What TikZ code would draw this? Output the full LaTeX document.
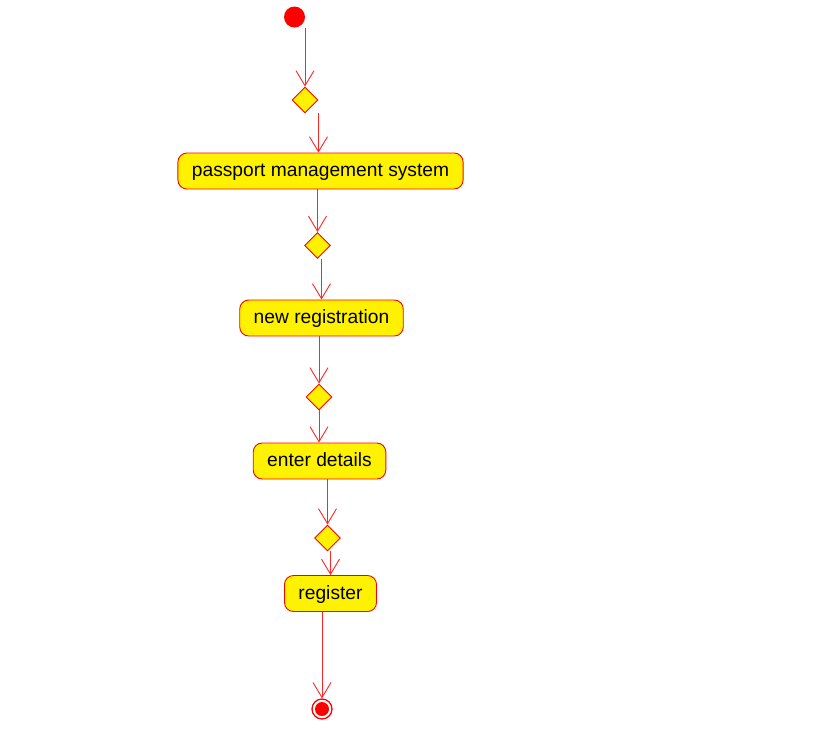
\documentclass[tikz,border=0pt]{standalone}
\usepackage{fontspec}
\setmainfont{Liberation Sans}
\usetikzlibrary{shapes.geometric}
\usetikzlibrary{arrows.meta}
\tikzset{
    activity diagram/.style={
            x=1pt,y=-1pt,
            font=\fontsize{19.2}{22}\selectfont,
            arrow/.style={-{Straight Barb[length=15pt,width=18pt]},red!85,line width=0.9pt},
            action/.style={draw=red,fill=yellow,rounded corners=9pt,minimum height=36pt,text height=14pt,text depth=3pt,inner xsep=14pt,inner ysep=0pt,line width=0.9pt},
            decision/.style={diamond,draw=red,fill=yellow,minimum size=26pt,inner sep=0pt,line width=0.9pt},
            initial/.style={circle,fill=red,minimum size=21pt,inner sep=0pt},
            final/.style={circle,draw=red,fill=white,line width=1.3pt,minimum size=20pt,inner sep=0pt,
                path picture={\fill[red] (path picture bounding box.center) circle (7pt);}}
        }
    }
\begin{document}
\begin{tikzpicture}[activity diagram]
    \useasboundingbox (0,0) rectangle (816,742);
    \node [initial] (start) at (294.5,17) {};
    \node [decision] (d1) at (305,100) {};
    \node [action] (pms) at (320.5,171) {passport management system};
    \node [decision] (d2) at (317.5,245.5) {};
    \node [action] (newreg) at (321.5,318) {new registration};
    \node [decision] (d3) at (319,397) {};
    \node [action] (details) at (319.5,461) {enter details};
    \node [decision] (d4) at (327.5,538) {};
    \node [action] (register) at (330.5,593.5) {register};
    \node [final] (stop) at (322,709) {};
    \draw [arrow] (d1.north |- start.south) -- (d1.north);
    \draw [arrow] (d1.east |- d1.south) -- (d1.east |- pms.north);
    \draw [arrow] (d2.north |- pms.south) -- (d2.north);
    \draw [arrow] (newreg.north |- d2.south) -- (newreg.north);
    \draw [arrow] (d3.north |- newreg.south) -- (d3.north);
    \draw [arrow] (d3.south) -- (d3.south |- details.north);
    \draw [arrow] (d4.north |- details.south) -- (d4.north);
    \draw [arrow] (register.north |- d4.south) -- (register.north);
    \draw [arrow] (stop.north |- register.south) -- (stop.north);
\end{tikzpicture}
\end{document}
